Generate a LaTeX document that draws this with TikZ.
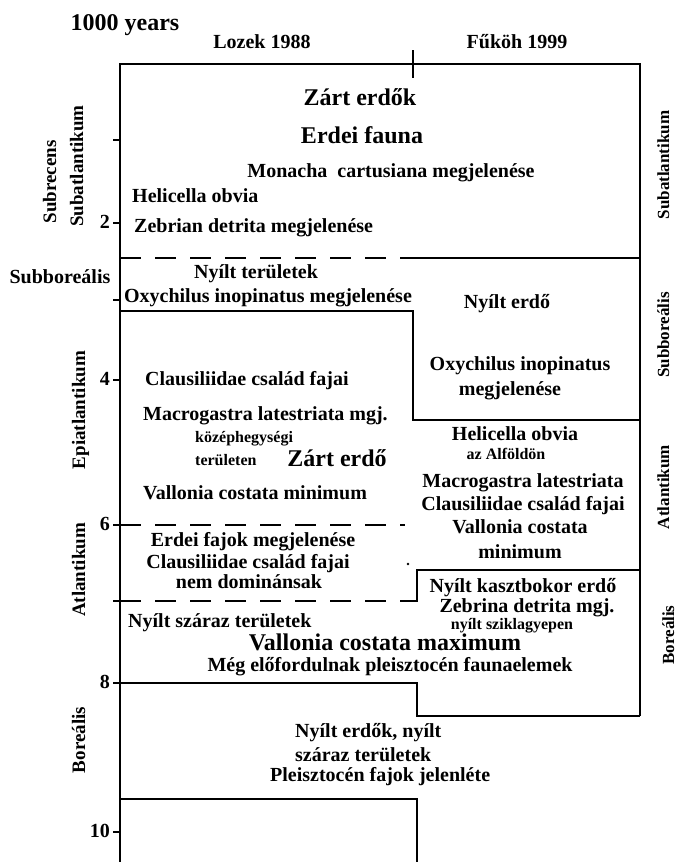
\documentclass[tikz,border=0pt]{standalone}
\usepackage{fontspec}
\setmainfont{Liberation Serif}

\tikzset{
	txt/.style={font=\fontsize{20}{22}\selectfont\bfseries, text height=14pt, text depth=4pt, inner sep=0pt},
	big/.style={txt, font=\fontsize{24}{26}\selectfont\bfseries},
	small/.style={txt, font=\fontsize{16}{18}\selectfont\bfseries, text height=11pt, text depth=3pt},
	side/.style={txt, rotate=90, font=\fontsize{19}{21}\selectfont\bfseries},
	rside/.style={side, font=\fontsize{17}{19}\selectfont\bfseries},
	border/.style={line width=1.8pt},
	brk/.style={border, dash pattern=on 21pt off 14pt},
}

\begin{document}
\begin{tikzpicture}[x=1pt, y=-1pt]
		\useasboundingbox (0,0) rectangle (680,862);
		\draw[border] (120,862) -- (120,64) -- (640,64) -- (640,716);
		\draw[border] (413,50) -- (413,78);
		\foreach \t in {140,223,300,380,525,601,683,832}
			\draw[border] (113,\t) -- (120,\t);
		\draw[brk] (120,258) -- (413,258);
		\draw[border] (413,258) -- (640,258);
		\draw[border] (120,311) -| (413,420) -- (640,420);
		\draw[brk] (120,525) -- (405,525);
		\draw[brk] (120,601) -- (410,601);
		\draw[border] (410,601) -| (417,570) -- (640,570);
		\fill (408,564) circle [radius=1.3];
		\draw[border] (120,683) -| (417,716) -- (640,716);
		\draw[border] (120,799) -| (417,862);
		\node[big] (yrs) at (125,25) {1000 years};
		\node[txt] (lozek) at (262,43) {Lozek 1988};
		\node[txt] (fukoh) at (517,43) {Fűköh 1999};
		\node[big] (zerdok) at (360,100) {Zárt erdők};
		\node[big] (efauna) at (362,138) {Erdei fauna};
		\node[txt] (monacha) at (391,172) {Monacha\ \ cartusiana megjelenése};
		\node[txt, anchor=west] (helic) at (132,197) {Helicella obvia};
		\node[txt, anchor=west] (zebrian) at (134,227) {Zebrian detrita megjelenése};
		\node[txt] (sbor) at (60,278) {Subboreális};
		\node[txt] (nyter) at (256,273) {Nyílt területek};
		\node[txt] (oxyl) at (268,297) {Oxychilus inopinatus megjelenése};
		\node[txt] (nyerdo) at (507,303) {Nyílt erdő};
		\node[txt] (oxyr) at (520,365) {Oxychilus inopinatus};
		\node[txt] (oxyr2) at (510,390) {megjelenése};
		\node[txt, anchor=west] (claus) at (145,380) {Clausiliidae család fajai};
		\node[txt, anchor=west] (macro) at (143,415) {Macrogastra latestriata mgj.};
		\node[small, anchor=west] (kozep) at (195,438) {középhegységi};
		\node[small, anchor=west] (terul) at (195,461) {területen};
		\node[big] (zerdo) at (337,461) {Zárt erdő};
		\node[txt, anchor=west] (vmin) at (143,494) {Vallonia costata minimum};
		\node[txt] (helicr) at (515,435) {Helicella obvia};
		\node[small] (alfold) at (506,455) {az Alföldön};
		\node[txt] (macror) at (523,482) {Macrogastra latestriata};
		\node[txt] (clausr) at (523,505) {Clausiliidae család fajai};
		\node[txt] (vminr) at (520,528) {Vallonia costata};
		\node[txt] (vminr2) at (520,553) {minimum};
		\node[txt] (erdfaj) at (253,541) {Erdei fajok megjelenése};
		\node[txt] (clausl) at (248,563) {Clausiliidae család fajai};
		\node[txt] (nemdom) at (249,583) {nem dominánsak};
		\node[txt] (kaszt) at (523,587) {Nyílt kasztbokor erdő};
		\node[txt] (zebrina) at (527,607) {Zebrina detrita mgj.};
		\node[small] (szikla) at (512,625) {nyílt sziklagyepen};
		\node[txt, anchor=west] (nyszar) at (128,622) {Nyílt száraz területek};
		\node[big] (vmax) at (385,645) {Vallonia costata maximum};
		\node[txt] (meg) at (390,666) {Még előfordulnak pleisztocén faunaelemek};
		\node[txt, anchor=west] (nyerdok) at (295,732) {Nyílt erdők, nyílt};
		\node[txt, anchor=west] (szaraz) at (295,756) {száraz területek};
		\node[txt, anchor=west] (pleis) at (270,776) {Pleisztocén fajok jelenléte};
		\foreach \t/\n in {223/2,380/4,525/6,683/8,832/10}
			\node[txt, anchor=east] (y\n) at (110,\t) {\n};
		\node[side] (subrec) at (51,182) {Subrecens};
		\node[side] (subatl) at (78,166) {Subatlantikum};
		\node[side] (epiatl) at (80,410) {Epiatlantikum};
		\node[side] (atl) at (80,570) {Atlantikum};
		\node[side] (bor) at (80,740) {Boreális};
		\node[rside] (rsubatl) at (664,165) {Subatlantikum};
		\node[rside] (rsbor) at (664,335) {Subboreális};
		\node[rside] (ratl) at (664,487) {Atlantikum};
		\node[rside] (rbor) at (669,635) {Boreális};
	\end{tikzpicture}
\end{document}
